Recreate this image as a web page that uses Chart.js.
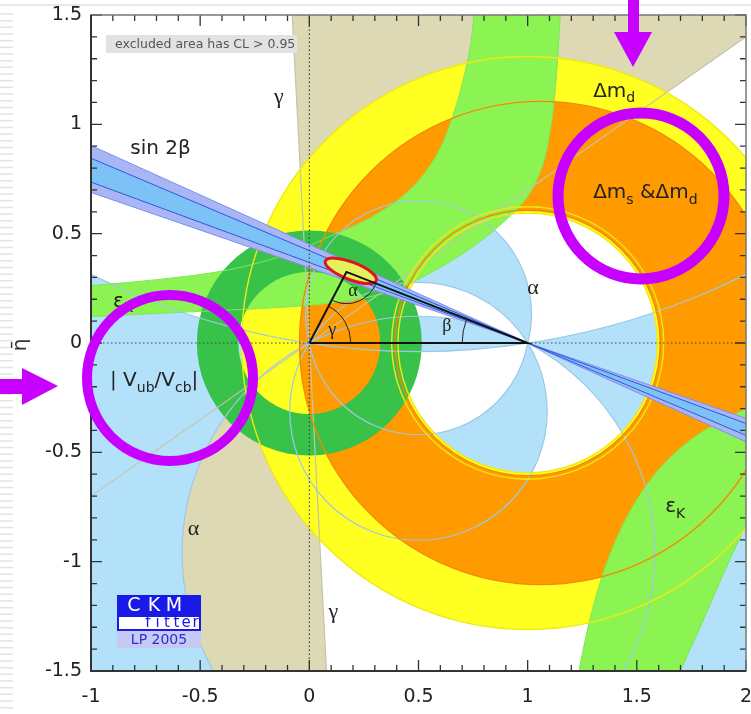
<!DOCTYPE html>
<html>
<head>
<meta charset="utf-8">
<title>CKM fitter - rho/eta plane</title>
<script src="https://cdn.jsdelivr.net/npm/chart.js@4.4.1/dist/chart.umd.min.js"></script>
<style>
  html, body { margin: 0; padding: 0; background: #fff; overflow: hidden; }
  canvas { display: block; }
</style>
</head>
<body>
<canvas id="ckm" width="751" height="714"></canvas>
<script>
// axes
var rhoRange = [-1, 2];
var etaRange = [-1.5, 1.5];
var tickStep = 0.5;

// apex of the unitarity triangle
var apex = [0.17, 0.325];
var triangle = [[0, 0], apex, [1, 0], [0, 0]];

// global fit ellipse: centre, half axes, tilt (deg)
var fitCenter = [0.19, 0.33];
var fitAxes = [0.125, 0.04];
var fitTilt = -21;

// gamma: wedges seen from the origin (deg)
var gammaWedges = [[35, 93], [215, 273]];

// alpha: ranges of the apex angle (deg), each on one side of the base
var alphaBands = [[0, 8.5], [-27.5, 0], [152.5, 180], [-180, -171], [75, 122], [-100, -58]];

// rings: [rho, eta, radius]
var dmdOuter = [1, 0, 1.31];
var dmdInner = [1, 0, 0.594];
var dmsOuter = [1.06, 0, 1.105];
var dmsInner = [1, 0, 0.607];
var vubOuter = [0, 0, 0.515];
var vubInner = [0, 0, 0.325];

// sin 2beta: beta ranges (deg) seen from (1,0)
var beta2s = [19.0, 24.3];
var beta1s = [20.2, 22.9];

// eps_K bands, two edges each
var epsUpA = [[-1.2, 0.25], [-1.0, 0.262], [-0.7, 0.288], [-0.36, 0.33], [-0.06, 0.415], [0.095, 0.49],
  [0.278, 0.565], [0.461, 0.69], [0.585, 0.85], [0.658, 1.03], [0.705, 1.2], [0.736, 1.34], [0.75, 1.45], [0.77, 1.7]];
var epsUpB = [[-1.2, 0.11], [-1.0, 0.12], [-0.6, 0.14], [0, 0.168], [0.3, 0.21], [0.46, 0.27], [0.63, 0.36],
  [0.78, 0.46], [0.9, 0.56], [1.0, 0.66], [1.06, 0.78], [1.09, 0.883], [1.125, 1.11], [1.15, 1.5], [1.16, 1.7]];
var epsLoA = [[1.21, -1.7], [1.231, -1.5], [1.318, -1.116], [1.437, -0.814], [1.574, -0.599], [1.73, -0.448],
  [1.881, -0.357], [2.0, -0.3], [2.15, -0.25]];
var epsLoB = [[1.62, -1.7], [1.698, -1.5], [1.804, -1.271], [1.895, -1.056], [1.987, -0.86], [2.15, -0.52]];

// text labels in data coordinates
var greekLabels = [
  ['\u03b3', -0.14, 1.125, 22], ['\u03b3', 0.11, -1.23, 22], ['\u03b1', -0.53, -0.85, 22],
  ['\u03b1', 1.025, 0.25, 22], ['\u03b1', 0.2, 0.235, 18], ['\u03b3', 0.105, 0.06, 18], ['\u03b2', 0.63, 0.075, 18]
];
var richLabels = [
  [[['sin 2\u03b2', 0]], -0.82, 0.89],
  [[['\u0394m', 0], ['d', 1]], 1.30, 1.15],
  [[['\u0394m', 0], ['s', 1], [' &\u0394m', 0], ['d', 1]], 1.30, 0.686],
  [[['| V', 0], ['ub', 1], ['/V', 0], ['cb', 1], ['|', 0]], -0.913, -0.174],
  [[['\u03b5', 0], ['K', 1]], -0.899, 0.19],
  [[['\u03b5', 0], ['K', 1]], 1.63, -0.75]
];

var col = {
  tan: '#ddd9b4', ltblue: '#b2e1f9', yellow: '#ffff22', orange: '#ff9a00',
  ltgreen: '#8cf452', dkgreen: '#39c24a', beta2: '#a8b6f5', beta1: '#7cc2f6', magenta: '#c800ff'
};
var SANS = '"DejaVu Sans", sans-serif';
var SERIF = '"Liberation Serif", "DejaVu Serif", serif';

var rad = Math.PI / 180;

function helpers(chart) {
  var xs = chart.scales.x, ys = chart.scales.y, ctx = chart.ctx;
  var X = function (v) { return xs.getPixelForValue(v); };
  var Y = function (v) { return ys.getPixelForValue(v); };
  var sx = X(1) - X(0), sy = Y(0) - Y(1);
  return {
    ctx: ctx, X: X, Y: Y, sx: sx, sy: sy,
    circ: function (c) {
      ctx.moveTo(X(c[0]) + c[2] * sx, Y(c[1]));
      ctx.ellipse(X(c[0]), Y(c[1]), c[2] * sx, c[2] * sy, 0, 0, 2 * Math.PI);
    },
    half: function (up) {
      ctx.rect(X(-5), up ? Y(5) : Y(0), X(5) - X(-5), up ? Y(0) - Y(5) : Y(-5) - Y(0));
    },
    smooth: function (pts) {
      var p = pts.map(function (q) { return [X(q[0]), Y(q[1])]; });
      var n = p.length;
      var mid = function (i) { var a = p[i % n], b = p[(i + 1) % n]; return [(a[0] + b[0]) / 2, (a[1] + b[1]) / 2]; };
      var s = mid(0);
      ctx.moveTo(s[0], s[1]);
      for (var i = 1; i <= n; i++) {
        var v = p[i % n], e = mid(i);
        ctx.quadraticCurveTo(v[0], v[1], e[0], e[1]);
      }
      ctx.closePath();
    }
  };
}

function alphaCircle(d) {
  return [0.5, 0.5 / Math.tan(d * rad), 0.5 / Math.abs(Math.sin(d * rad))];
}

function bandPts(a, b) { return a.concat(b.slice().reverse()); }

var ckmPlugin = {
  id: 'ckmPlugin',
  beforeDatasetsDraw: function (chart) {
    var h = helpers(chart), ctx = h.ctx, X = h.X, Y = h.Y, a = chart.chartArea;
    ctx.save();
    ctx.beginPath();
    ctx.rect(a.left, a.top, a.right - a.left, a.bottom - a.top);
    ctx.clip();

    // gamma wedges
    ctx.fillStyle = col.tan;
    gammaWedges.forEach(function (w) {
      ctx.beginPath();
      ctx.moveTo(X(0), Y(0));
      [w[0], (w[0] + w[1]) / 2, w[1]].forEach(function (d) {
        ctx.lineTo(X(6 * Math.cos(d * rad)), Y(6 * Math.sin(d * rad)));
      });
      ctx.closePath();
      ctx.fill();
    });

    // alpha bands
    ctx.fillStyle = col.ltblue;
    alphaBands.forEach(function (b) {
      var up = b[0] + b[1] > 0;
      ctx.save();
      ctx.beginPath(); h.half(up); ctx.clip();
      ctx.beginPath();
      b.forEach(function (d) {
        if (d === 0) h.half(up);
        else if (Math.abs(d) !== 180) h.circ(alphaCircle(d));
      });
      ctx.fill('evenodd');
      ctx.restore();
    });

    // dm_d and dm_s rings
    function ring(o, i, c) {
      ctx.fillStyle = c;
      ctx.beginPath(); h.circ(o); h.circ(i); ctx.fill('evenodd');
    }
    ring(dmdOuter, dmdInner, col.yellow);
    ring(dmsOuter, dmsInner, col.orange);

    // eps_K
    ctx.fillStyle = col.ltgreen;
    ctx.beginPath(); h.smooth(bandPts(epsUpA, epsUpB)); ctx.fill();
    ctx.beginPath(); h.smooth(bandPts(epsLoA, epsLoB)); ctx.fill();

    // |Vub/Vcb|
    ring(vubOuter, vubInner, col.dkgreen);

    // contour lines
    ctx.lineWidth = 1.2;
    ctx.strokeStyle = '#c6c4ac';
    gammaWedges[0].forEach(function (d) {
      ctx.beginPath();
      ctx.moveTo(X(-6 * Math.cos(d * rad)), Y(-6 * Math.sin(d * rad)));
      ctx.lineTo(X(6 * Math.cos(d * rad)), Y(6 * Math.sin(d * rad)));
      ctx.stroke();
    });
    ctx.strokeStyle = '#9cc8e6';
    alphaBands.forEach(function (b) {
      var up = b[0] + b[1] > 0;
      b.forEach(function (d) {
        if (d === 0 || Math.abs(d) === 180) return;
        ctx.save();
        ctx.beginPath(); h.half(up); ctx.clip();
        ctx.beginPath(); h.circ(alphaCircle(d)); ctx.stroke();
        ctx.restore();
      });
    });
    ctx.strokeStyle = '#7fe75a';
    ctx.lineWidth = 1;
    ctx.beginPath(); h.smooth(bandPts(epsUpA, epsUpB)); ctx.stroke();
    ctx.beginPath(); h.smooth(bandPts(epsLoA, epsLoB)); ctx.stroke();

    ctx.lineWidth = 1.4;
    ctx.strokeStyle = '#eeea10';
    ctx.beginPath(); h.circ(dmdOuter); ctx.stroke();
    ctx.beginPath(); h.circ(dmdInner); ctx.stroke();
    ctx.beginPath(); h.circ([dmsInner[0], dmsInner[1], dmsInner[2] + 0.016]); ctx.stroke();
    ctx.strokeStyle = '#f58a00';
    ctx.beginPath(); h.circ(dmsOuter); ctx.stroke();
    ctx.beginPath(); h.circ(dmsInner); ctx.stroke();

    // sin 2beta wedge from (1,0)
    function wedge(bb, c) {
      ctx.fillStyle = c;
      [-1, 1].forEach(function (side) {
        var xe = side < 0 ? -1.2 : 2.2;
        ctx.beginPath();
        ctx.moveTo(X(1), Y(0));
        bb.forEach(function (d) { ctx.lineTo(X(xe), Y(-Math.tan(d * rad) * (xe - 1))); });
        ctx.closePath();
        ctx.fill();
      });
    }
    function betaLine(d, c) {
      ctx.strokeStyle = c;
      ctx.beginPath();
      ctx.moveTo(X(-1.2), Y(-Math.tan(d * rad) * (-2.2)));
      ctx.lineTo(X(2.2), Y(-Math.tan(d * rad) * 1.2));
      ctx.stroke();
    }
    wedge(beta2s, col.beta2);
    wedge(beta1s, col.beta1);
    ctx.lineWidth = 1;
    beta2s.forEach(function (d) { betaLine(d, '#7d8ff0'); });
    beta1s.forEach(function (d) { betaLine(d, '#3355dd'); });

    // fit ellipse
    ctx.beginPath();
    ctx.ellipse(X(fitCenter[0]), Y(fitCenter[1]), fitAxes[0] * h.sx, fitAxes[1] * h.sy, -fitTilt * rad, 0, 2 * Math.PI);
    ctx.fillStyle = '#e2f25c';
    ctx.fill();
    ctx.lineWidth = 3;
    ctx.strokeStyle = '#e3141c';
    ctx.stroke();

    // dotted axes through the origin
    ctx.setLineDash([1.5, 2.5]);
    ctx.lineWidth = 1.2;
    ctx.strokeStyle = '#444';
    ctx.beginPath();
    ctx.moveTo(X(0), Y(etaRange[0])); ctx.lineTo(X(0), Y(etaRange[1]));
    ctx.moveTo(X(rhoRange[0]), Y(0)); ctx.lineTo(X(rhoRange[1]), Y(0));
    ctx.stroke();
    ctx.setLineDash([]);
    ctx.restore();
  },

  afterDatasetsDraw: function (chart) {
    var h = helpers(chart), ctx = h.ctx, X = h.X, Y = h.Y;
    ctx.save();
    ctx.strokeStyle = '#222';
    ctx.lineWidth = 1;
    function arc(cx, cy, r, d1, d2) {
      ctx.beginPath();
      ctx.ellipse(X(cx), Y(cy), r * h.sx, r * h.sy, 0, -d2, -d1);
      ctx.stroke();
    }
    var toO = Math.atan2(-apex[1], -apex[0]);
    var toB = Math.atan2(-apex[1], 1 - apex[0]);
    arc(0, 0, 0.19, 0, Math.atan2(apex[1], apex[0]));
    arc(apex[0], apex[1], 0.145, toO + 2 * Math.PI * (toO < 0 ? 1 : 0), toB + 2 * Math.PI);
    arc(1, 0, 0.3, Math.PI + toB, Math.PI);

    ctx.fillStyle = '#222';
    ctx.textBaseline = 'middle';
    ctx.textAlign = 'center';
    greekLabels.forEach(function (l) {
      ctx.font = l[3] + 'px ' + SERIF;
      ctx.fillText(l[0], X(l[1]), Y(l[2]));
    });
    ctx.textAlign = 'left';
    richLabels.forEach(function (l) {
      var x = X(l[1]), y = Y(l[2]), size = 20;
      l[0].forEach(function (p) {
        var s = p[1] ? 14 : size;
        ctx.font = s + 'px ' + SANS;
        ctx.fillText(p[0], x, y + (p[1] ? 7 : 0));
        x += ctx.measureText(p[0]).width;
      });
    });
    ctx.restore();
  },

  afterDraw: function (chart) {
    var h = helpers(chart), ctx = h.ctx, X = h.X, Y = h.Y, a = chart.chartArea;
    ctx.save();
    // inward ticks
    ctx.strokeStyle = '#333';
    ctx.lineWidth = 1.3;
    ctx.beginPath();
    for (var i = Math.round(rhoRange[0] * 10); i <= Math.round(rhoRange[1] * 10); i++) {
      var px = X(i / 10), len = i % 5 === 0 ? 11 : 6;
      ctx.moveTo(px, a.bottom); ctx.lineTo(px, a.bottom - len);
      ctx.moveTo(px, a.top); ctx.lineTo(px, a.top + len);
    }
    for (var j = Math.round(etaRange[0] * 10); j <= Math.round(etaRange[1] * 10); j++) {
      var py = Y(j / 10), ln = j % 5 === 0 ? 11 : 6;
      ctx.moveTo(a.left, py); ctx.lineTo(a.left + ln, py);
      ctx.moveTo(a.right, py); ctx.lineTo(a.right - ln, py);
    }
    ctx.stroke();
    // frame
    ctx.lineWidth = 1.5;
    ctx.strokeStyle = '#777';
    ctx.strokeRect(a.left, a.top, a.right - a.left, a.bottom - a.top);
    ctx.lineWidth = 2;
    ctx.strokeStyle = '#333';
    ctx.beginPath();
    ctx.moveTo(a.left, a.top); ctx.lineTo(a.left, a.bottom); ctx.lineTo(a.right, a.bottom);
    ctx.stroke();

    // CL legend box
    ctx.fillStyle = '#e2e2e2';
    ctx.fillRect(a.left + 15, a.top + 20, 191, 18);
    ctx.fillStyle = '#555';
    ctx.font = '12.5px ' + SANS;
    ctx.textBaseline = 'middle';
    ctx.textAlign = 'left';
    ctx.fillText('excluded area has CL > 0.95', a.left + 24, a.top + 29.5);

    // CKMfitter logo
    var lx = a.left + 26, ly = a.top + 580;
    ctx.fillStyle = '#1a1ae6';
    ctx.fillRect(lx, ly, 84, 21);
    ctx.fillStyle = '#fff';
    ctx.fillRect(lx, ly + 21, 84, 15);
    ctx.strokeStyle = '#1a1ae6';
    ctx.lineWidth = 2;
    ctx.strokeRect(lx + 1, ly + 21, 82, 14);
    ctx.fillStyle = '#c8c8f5';
    ctx.fillRect(lx, ly + 36, 84, 17);
    ctx.textAlign = 'center';
    ctx.fillStyle = '#fff';
    ctx.font = '19px ' + SANS;
    ['C', 'K', 'M'].forEach(function (c, k) { ctx.fillText(c, lx + 17 + k * 20, ly + 11); });
    ctx.fillStyle = '#1a1ae6';
    ctx.font = '15px ' + SANS;
    ['f', 'i', 't', 't', 'e', 'r'].forEach(function (c, k) { ctx.fillText(c, lx + 31 + k * 9.5, ly + 28); });
    ctx.fillStyle = '#2233cc';
    ctx.font = '14px ' + SANS;
    ctx.fillText('LP 2005', lx + 42, ly + 45);

    // slide margin
    ctx.strokeStyle = '#e4e4e4';
    ctx.lineWidth = 1.5;
    ctx.beginPath();
    for (var s = 14; s < 714; s += 6.67) { ctx.moveTo(0, s); ctx.lineTo(13, s); }
    ctx.moveTo(0, 5); ctx.lineTo(751, 5);
    ctx.stroke();

    // axis title
    ctx.save();
    ctx.translate(21, (a.top + a.bottom) / 2 + 2);
    ctx.rotate(-Math.PI / 2);
    ctx.fillStyle = '#333';
    ctx.font = '20px ' + SANS;
    ctx.textAlign = 'center';
    ctx.fillText('\u03b7\u0304', 0, 0);
    ctx.restore();

    // highlight marks
    ctx.strokeStyle = col.magenta;
    ctx.fillStyle = col.magenta;
    ctx.lineWidth = 10;
    ctx.beginPath(); ctx.arc(170, 378, 83, 0, 2 * Math.PI); ctx.stroke();
    ctx.lineWidth = 11;
    ctx.beginPath(); ctx.arc(641, 196, 83, 0, 2 * Math.PI); ctx.stroke();
    ctx.fillRect(0, 379, 24, 15);
    ctx.beginPath(); ctx.moveTo(22, 368); ctx.lineTo(58, 386); ctx.lineTo(22, 405); ctx.closePath(); ctx.fill();
    ctx.fillRect(628, 0, 11, 34);
    ctx.beginPath(); ctx.moveTo(614, 32); ctx.lineTo(652, 32); ctx.lineTo(633, 67); ctx.closePath(); ctx.fill();
    ctx.restore();
  }
};

function tickText(v) { return String(Math.round(v * 10) / 10); }

new Chart(document.getElementById('ckm'), {
  type: 'scatter',
  data: {
    datasets: [{
      label: 'unitarity triangle',
      data: triangle.map(function (p) { return { x: p[0], y: p[1] }; }),
      showLine: true,
      borderColor: '#111',
      borderWidth: 2,
      pointRadius: 0,
      fill: false
    }]
  },
  options: {
    responsive: false,
    animation: false,
    layout: { padding: { left: 0, right: 5, top: 15, bottom: 0 } },
    plugins: { legend: { display: false }, tooltip: { enabled: false } },
    scales: {
      x: {
        type: 'linear', min: rhoRange[0], max: rhoRange[1],
        grid: { display: false, drawTicks: false }, border: { display: false },
        ticks: { stepSize: tickStep, padding: 15, color: '#222', maxRotation: 0, autoSkip: false,
          font: { family: 'DejaVu Sans', size: 19 }, callback: tickText },
        afterFit: function (s) { s.height = 43; s.paddingLeft = 0; s.paddingRight = 0; }
      },
      y: {
        type: 'linear', min: etaRange[0], max: etaRange[1],
        grid: { display: false, drawTicks: false }, border: { display: false },
        ticks: { stepSize: tickStep, padding: 9, color: '#222', autoSkip: false,
          font: { family: 'DejaVu Sans', size: 19 }, callback: tickText },
        afterFit: function (s) { s.width = 91; s.paddingTop = 0; s.paddingBottom = 0; }
      }
    }
  },
  plugins: [ckmPlugin]
});
</script>
</body>
</html>
